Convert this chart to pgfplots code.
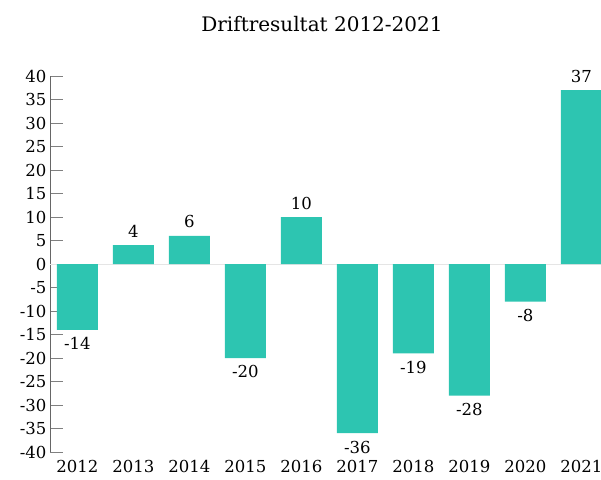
\documentclass[border=0pt]{standalone}
\usepackage{pgfplots}
\pgfplotsset{compat=1.18}
\usepackage{fontspec}
\setmainfont{DejaVu Serif}
\definecolor{barc}{HTML}{2DC5B1}
\begin{document}
\begin{tikzpicture}
\path[use as bounding box] (0,0) rectangle (601pt,479pt);
\node[font=\fontsize{20}{22}\selectfont] at (322pt,455pt) {Driftresultat 2012-2021};
\begin{axis}[at={(50pt,27pt)}, anchor=south west, scale only axis,
  width=551pt, height=376pt,
  xmin=-0.49, xmax=9.35, ymin=-40, ymax=40,
  ytick={-40,-35,...,40},
  xtick={0,...,9},
  xticklabels={2012,2013,2014,2015,2016,2017,2018,2019,2020,2021},
  axis x line*=bottom, axis y line*=left,
  x axis line style={draw=none},
  major x tick style={draw=none},
  y axis line style={black!60, line width=1pt},
  major y tick style={black!50, line width=0.9pt},
  tick align=inside, major tick length=13pt,
  tick label style={font=\fontsize{16.5}{18}\selectfont},
  xticklabel style={yshift=7pt, inner sep=2pt},
  /pgf/number format/assume math mode=true,
  ybar, bar width=41pt, bar shift=0pt,
  nodes near coords, nodes near coords align=vertical,
  every node near coord/.append style={font=\fontsize{16.5}{18}\selectfont, text=black, inner sep=7.5pt, /pgf/number format/assume math mode=true},
  clip=false,
]
\addplot[sharp plot, gray!20, line width=0.8pt, forget plot, nodes near coords=] coordinates {(-0.49,0) (9.35,0)};
\addplot[fill=barc, draw=none] coordinates {
(0,-14) (1,4) (2,6) (3,-20) (4,10) (5,-36) (6,-19) (7,-28) (8,-8) (9,37)};
\end{axis}
\end{tikzpicture}
\end{document}
